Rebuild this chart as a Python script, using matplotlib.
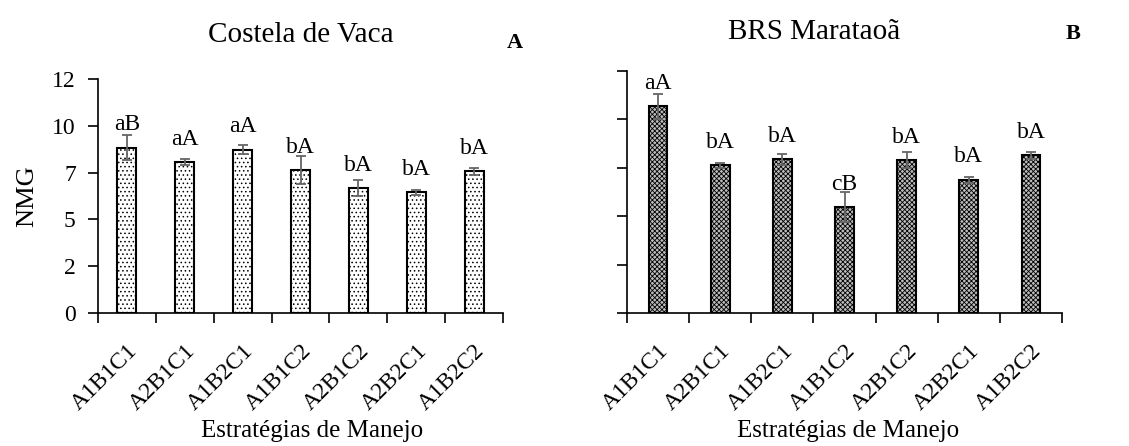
import numpy as np
import matplotlib
matplotlib.use("Agg")
from matplotlib import pyplot as plt
from matplotlib import transforms

plt.rcParams['font.family'] = ['Liberation Serif', 'DejaVu Serif']
plt.rcParams['hatch.linewidth'] = 0.6

# strategies (same order in both cultivars)
strategies = ["A1B1C1", "A2B1C1", "A1B2C1", "A1B1C2", "A2B1C2", "A2B2C1", "A1B2C2"]

# Costela de Vaca
cv_mean = [8.84, 8.07, 8.72, 7.63, 6.68, 6.45, 7.56]
cv_err = [0.65, 0.14, 0.25, 0.75, 0.43, 0.12, 0.20]
cv_letters = ["aB", "aA", "aA", "bA", "bA", "bA", "bA"]

# BRS Marataoa
brs_mean = [10.67, 7.62, 7.95, 5.47, 7.90, 6.88, 8.14]
brs_err = [0.65, 0.14, 0.28, 0.76, 0.43, 0.14, 0.17]
brs_letters = ["aA", "bA", "bA", "cB", "bA", "bA", "bA"]

yticks = [0, 2.5, 5, 7.5, 10, 12.5]
ytick_labels = ["0", "2", "5", "7", "10", "12"]

W, H = 1129, 446
fig = plt.figure(figsize=(W / 100, H / 100), dpi=100)
ax1 = fig.add_axes([98 / W, 1 - 313 / H, 405 / W, 234 / H])
ax2 = fig.add_axes([627 / W, 1 - 313 / H, 435 / W, 242 / H])

# nudge rotated category labels a little to the left
shift = transforms.ScaledTranslation(-4 / 100, 0, fig.dpi_scale_trans)


def draw_panel(ax, means, errs, letters, width, hatch, face):
    x = np.arange(len(strategies))
    ax.bar(x, means, width=width, color=face, edgecolor='black',
           linewidth=1.5, hatch=hatch, zorder=2)
    ax.errorbar(x, means, yerr=errs, fmt='none', ecolor='#666666',
                elinewidth=1.3, capsize=3.6, capthick=1.3, zorder=3)
    for xi, m, lab in zip(x, means, letters):
        ax.annotate(lab, (xi, m), xytext=(0, 12.5), textcoords='offset points',
                    ha='center', va='baseline', fontsize=17)
    ax.set_xlim(-0.5, len(strategies) - 0.5)
    ax.set_ylim(0, 12.5)
    ax.set_yticks(yticks)
    ax.set_xticks(x)
    ax.set_xticklabels(strategies, rotation=45, ha='right', va='top',
                       rotation_mode='anchor', fontsize=17)
    for lbl in ax.get_xticklabels():
        lbl.set_transform(lbl.get_transform() + shift)
    ax.set_xticks(np.arange(-0.5, len(strategies)), minor=True)
    ax.tick_params(axis='x', which='major', length=0, pad=20)
    ax.tick_params(axis='x', which='minor', length=7, width=1.2, direction='out')
    ax.tick_params(axis='y', length=7, width=1.2, direction='out', labelsize=17, pad=9)
    for s in ['top', 'right']:
        ax.spines[s].set_visible(False)
    for s in ['left', 'bottom']:
        ax.spines[s].set_linewidth(1.2)


draw_panel(ax1, cv_mean, cv_err, cv_letters, 0.33, '....', 'white')
ax1.set_yticklabels(ytick_labels)
ax1.set_ylabel("NMG", fontsize=19, labelpad=10)

draw_panel(ax2, brs_mean, brs_err, brs_letters, 0.30, 'xxxxxxx', '#bdbdbd')
ax2.set_yticklabels([])

# panel titles and tags
fig.text(301 / W, 1 - 42 / H, "Costela de Vaca", ha='center', va='baseline', fontsize=21)
fig.text(814 / W, 1 - 39 / H, "BRS Marataoã", ha='center', va='baseline', fontsize=21)
fig.text(515 / W, 1 - 48 / H, "A", ha='center', va='baseline', fontsize=16, fontweight='bold')
fig.text(1073 / W, 1 - 39 / H, "B", ha='center', va='baseline', fontsize=16, fontweight='bold')

fig.text(312 / W, 1 - 437 / H, "Estratégias de Manejo", ha='center', va='baseline', fontsize=18)
fig.text(848 / W, 1 - 437 / H, "Estratégias de Manejo", ha='center', va='baseline', fontsize=18)

fig.savefig("out.png", dpi=100)
